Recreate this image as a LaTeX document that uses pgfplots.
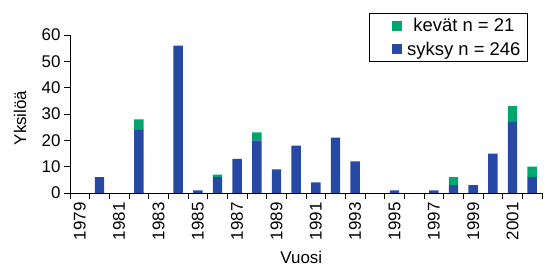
\documentclass[border=0pt]{standalone}
\usepackage{fontspec}
\setmainfont{Liberation Sans}
\usepackage{pgfplots}
\usepackage{pgfplotstable}
\pgfplotsset{compat=1.18}
\definecolor{syksy}{RGB}{38,74,164}
\definecolor{kevat}{RGB}{0,166,110}
\pgfplotstableread{
x syksy kevat
0 0 0
1 6 0
2 0 0
3 24 4
4 0 0
5 56 0
6 1 0
7 6 1
8 13 0
9 20 3
10 9 0
11 18 0
12 4 0
13 21 0
14 12 0
15 0 0
16 1 0
17 0 0
18 1 0
19 3 3
20 3 0
21 15 0
22 27 6
23 6 4
}\datatable
\begin{document}
\begin{tikzpicture}
\useasboundingbox (0,0) rectangle (548bp,267bp);
\begin{axis}[
  at={(70bp,74bp)}, anchor=south west,
  scale only axis, width=472bp, height=158bp,
  ybar stacked, bar width=0.48,
  xmin=-0.5, xmax=23.5, ymin=0, ymax=60,
  ytick={0,10,...,60},
  xtick={0,2,...,22},
  xticklabels={1979,1981,1983,1985,1987,1989,1991,1993,1995,1997,1999,2001},
  minor xtick={-0.5,0.5,...,23.5},
  major x tick style={draw=none},
  axis x line=bottom, axis y line=left, axis line style={-, line width=0.8bp},
  tick align=outside,
  major tick length=6bp, minor tick length=6bp,
  tick style={black, line width=0.8bp},
  yticklabel style={font=\fontsize{17}{17}\selectfont},
  xticklabel style={rotate=90, anchor=east, font=\fontsize{17}{17}\selectfont},
  /pgf/number format/assume math mode=true,
  ylabel={Yksilöä}, xlabel={Vuosi},
  label style={font=\fontsize{17}{17}\selectfont},
  ylabel style={at={(axis description cs:-0.106,0.475)}, anchor=center},
  xlabel style={at={(axis description cs:0.49,-0.41)}, anchor=center},
  reverse legend,
  legend image code/.code={\path[draw=none, fill=none] (0bp,-5bp) rectangle (31bp,5bp); \fill[#1, draw=none] (18bp,-5bp) rectangle (28bp,5bp);},
  legend style={at={(0.970,1.141)}, anchor=north east, draw=black, line width=0.8bp,
    font=\fontsize{18.5}{18.5}\selectfont, row sep=5bp, inner xsep=5bp, inner ysep=3bp},
]
\addplot[fill=syksy, draw=none] table[x=x, y=syksy] {\datatable};
\addplot[fill=kevat, draw=none] table[x=x, y=kevat] {\datatable};
\legend{syksy n = 246, kevät n = 21}
\end{axis}
\end{tikzpicture}
\end{document}
